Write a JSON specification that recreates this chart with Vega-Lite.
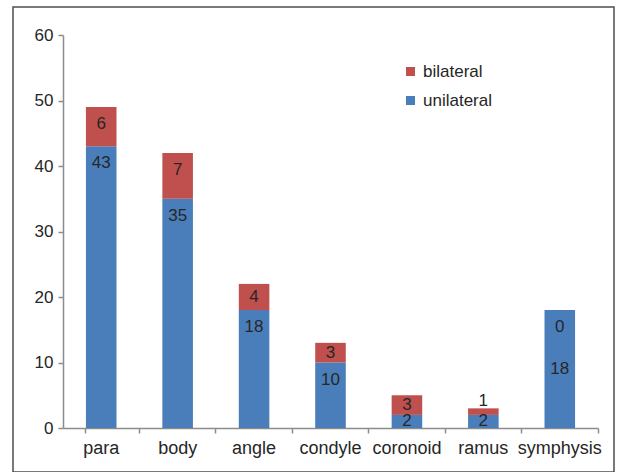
{
  "$schema": "https://vega.github.io/schema/vega-lite/v6.json",
  "autosize": {"type": "none"},
  "padding": {"left": 13, "top": 7, "right": 3, "bottom": 0},
  "width": 601,
  "height": 465,
  "background": "white",
  "config": {
    "view": {"stroke": "#4d4d4d", "strokeWidth": 1.5},
    "font": "Liberation Sans"
  },
  "data": {
    "values": [
      {"cat": "para", "type": "unilateral", "count": 43},
      {"cat": "para", "type": "bilateral", "count": 6},
      {"cat": "body", "type": "unilateral", "count": 35},
      {"cat": "body", "type": "bilateral", "count": 7},
      {"cat": "angle", "type": "unilateral", "count": 18},
      {"cat": "angle", "type": "bilateral", "count": 4},
      {"cat": "condyle", "type": "unilateral", "count": 10},
      {"cat": "condyle", "type": "bilateral", "count": 3},
      {"cat": "coronoid", "type": "unilateral", "count": 2},
      {"cat": "coronoid", "type": "bilateral", "count": 3},
      {"cat": "ramus", "type": "unilateral", "count": 2},
      {"cat": "ramus", "type": "bilateral", "count": 1},
      {"cat": "symphysis", "type": "unilateral", "count": 18},
      {"cat": "symphysis", "type": "bilateral", "count": 0}
    ]
  },
  "transform": [
    {"stack": "count", "groupby": ["cat"], "sort": [{"field": "type", "order": "descending"}], "as": ["y0", "y1"]},
    {"calculate": "(datum.y0 + datum.y1) / 2", "as": "ymid"}
  ],
  "resolve": {"axis": {"x": "independent"}},
  "layer": [
    {
      "mark": {"type": "bar"},
      "encoding": {
        "x": {
          "field": "cat",
          "type": "nominal",
          "sort": ["para", "body", "angle", "condyle", "coronoid", "ramus", "symphysis"],
          "scale": {"range": [50, 585], "paddingInner": 0.6, "paddingOuter": 0.3},
          "axis": {
            "title": null,
            "orient": "bottom",
            "offset": -44,
            "labelAngle": 0,
            "labelFontSize": 18,
            "labelColor": "#262626",
            "labelPadding": 11,
            "ticks": false,
            "domainColor": "#8c8c8c",
            "domainWidth": 1.5
          }
        },
        "y": {
          "field": "y1",
          "type": "quantitative",
          "scale": {"domain": [0, 60], "range": [421, 28], "nice": false, "zero": true},
          "axis": {
            "title": null,
            "orient": "left",
            "offset": -50,
            "values": [0, 10, 20, 30, 40, 50, 60],
            "grid": false,
            "labelFontSize": 17,
            "labelColor": "#262626",
            "labelPadding": 5,
            "ticks": true,
            "tickSize": 5,
            "tickColor": "#8c8c8c",
            "tickWidth": 1.5,
            "domainColor": "#8c8c8c",
            "domainWidth": 1.5
          }
        },
        "y2": {"field": "y0"},
        "color": {
          "field": "type",
          "type": "nominal",
          "scale": {"domain": ["bilateral", "unilateral"], "range": ["#c0504d", "#4a7ebb"]},
          "legend": {
            "title": null,
            "orient": "none",
            "legendX": 389,
            "legendY": 56,
            "padding": 0,
            "symbolType": "square",
            "symbolSize": 81,
            "symbolStrokeWidth": 0,
            "labelFontSize": 17,
            "labelColor": "#262626",
            "labelOffset": 4,
            "rowPadding": 11
          }
        }
      }
    },
    {
      "transform": [{"filter": "(datum.count >= 6 && datum.cat != 'symphysis') || datum.count == 0"}],
      "mark": {"type": "text", "baseline": "middle", "dy": 17, "fontSize": 17, "color": "#262626"},
      "encoding": {
        "x": {
          "field": "cat",
          "type": "nominal",
          "sort": ["para", "body", "angle", "condyle", "coronoid", "ramus", "symphysis"],
          "axis": {
            "title": null,
            "orient": "bottom",
            "offset": -44,
            "labels": false,
            "domain": false,
            "ticks": true,
            "bandPosition": 1.75,
            "tickExtra": true,
            "tickSize": 5,
            "tickColor": "#8c8c8c",
            "tickWidth": 1.5
          }
        },
        "y": {"field": "y1", "type": "quantitative"},
        "text": {"field": "count", "type": "quantitative"}
      }
    },
    {
      "transform": [{"filter": "(datum.count > 0 && datum.count < 6 && !(datum.cat == 'ramus' && datum.type == 'bilateral')) || (datum.cat == 'symphysis' && datum.type == 'unilateral')"}],
      "mark": {"type": "text", "baseline": "middle", "fontSize": 17, "color": "#262626"},
      "encoding": {
        "x": {
          "field": "cat",
          "type": "nominal",
          "sort": ["para", "body", "angle", "condyle", "coronoid", "ramus", "symphysis"],
          "axis": null
        },
        "y": {"field": "ymid", "type": "quantitative"},
        "text": {"field": "count", "type": "quantitative"}
      }
    },
    {
      "transform": [{"filter": "datum.cat == 'ramus' && datum.type == 'bilateral'"}],
      "mark": {"type": "text", "baseline": "middle", "dy": -7, "fontSize": 17, "color": "#262626"},
      "encoding": {
        "x": {
          "field": "cat",
          "type": "nominal",
          "sort": ["para", "body", "angle", "condyle", "coronoid", "ramus", "symphysis"],
          "axis": null
        },
        "y": {"field": "y1", "type": "quantitative"},
        "text": {"field": "count", "type": "quantitative"}
      }
    }
  ]
}
